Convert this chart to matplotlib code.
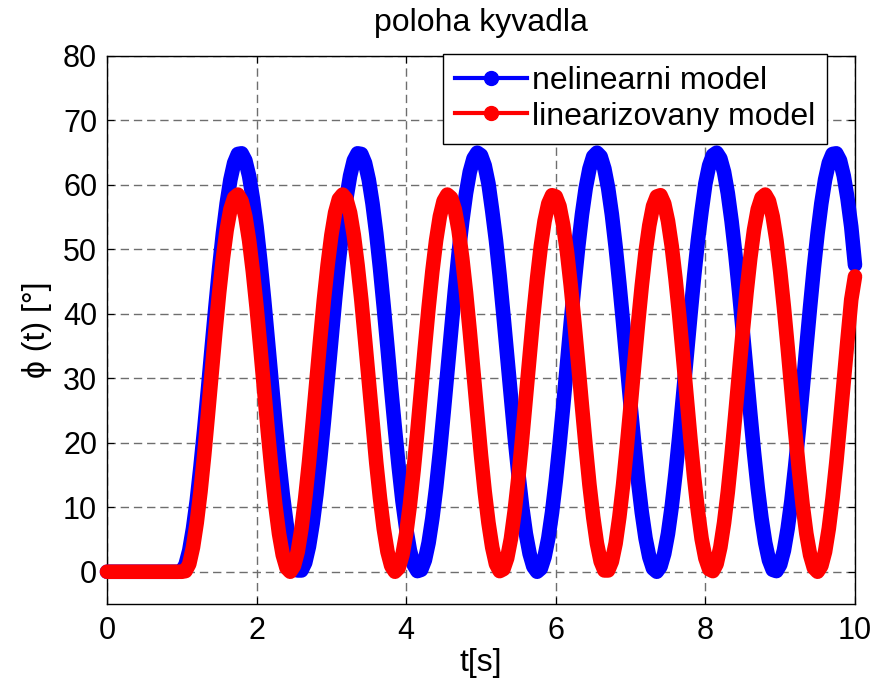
import numpy as np
import matplotlib
matplotlib.use('Agg')
import matplotlib.pyplot as plt
from matplotlib.lines import Line2D

plt.rcParams['font.family'] = ['Liberation Sans', 'DejaVu Sans']

# poloha kyvadla [deg], sampled every 0.05 s from 0 to 10 s
phi_nonlin = [
    0.0, 0.0, 0.0, 0.0, 0.0, 0.0, 0.0, 0.0, 0.0, 0.0,
    0.0, 0.0, 0.0, 0.0, 0.0, 0.0, 0.0, 0.0, 0.0, 0.0,
    0.1, 1.1, 3.3, 6.7, 11.0, 16.3, 22.1, 28.3, 34.8, 41.1,
    47.1, 52.5, 57.1, 60.8, 63.4, 64.8, 64.9, 63.8, 61.4, 57.9,
    53.5, 48.2, 42.3, 36.0, 29.6, 23.3, 17.4, 12.0, 7.5, 3.9,
    1.4, 0.2, 0.2, 1.4, 3.9, 7.5, 12.0, 17.4, 23.3, 29.6,
    36.0, 42.3, 48.2, 53.5, 57.9, 61.4, 63.8, 64.9, 64.8, 63.4,
    60.8, 57.1, 52.5, 47.1, 41.1, 34.8, 28.3, 22.1, 16.3, 11.0,
    6.7, 3.3, 1.1, 0.1, 0.3, 1.8, 4.5, 8.3, 13.0, 18.5,
    24.6, 30.9, 37.3, 43.5, 49.3, 54.4, 58.7, 62.0, 64.1, 65.0,
    64.6, 63.0, 60.2, 56.0, 51.4, 45.9, 39.8, 33.5, 27.1, 20.9,
    15.2, 10.1, 5.9, 2.8, 0.8, 0.0, 0.5, 2.3, 5.2, 9.2,
    14.1, 19.7, 25.8, 32.2, 38.6, 44.7, 50.4, 55.4, 59.5, 62.5,
    64.4, 65.0, 64.4, 62.5, 59.5, 55.4, 50.4, 44.7, 38.6, 32.2,
    25.8, 19.7, 14.1, 9.2, 5.2, 2.3, 0.5, 0.0, 0.8, 2.8,
    5.9, 10.1, 15.2, 20.9, 27.1, 33.5, 39.8, 45.9, 51.4, 56.0,
    60.2, 63.0, 64.6, 65.0, 64.1, 62.0, 58.7, 54.4, 49.3, 43.5,
    37.3, 30.9, 24.6, 18.5, 13.0, 8.3, 4.5, 1.8, 0.3,
    0.1, 1.1, 3.3, 6.7, 11.0, 16.3, 22.1, 28.3, 34.8, 41.1,
    47.1, 52.5, 57.1, 60.8, 63.4, 64.8, 64.9, 63.8, 61.4, 57.9,
    53.5, 47.6,
]

phi_lin = [
    0.0, 0.0, 0.0, 0.0, 0.0, 0.0, 0.0, 0.0, 0.0, 0.0,
    0.0, 0.0, 0.0, 0.0, 0.0, 0.0, 0.0, 0.0, 0.0, 0.0,
    0.0,
    0.1, 1.2, 3.8, 7.6, 12.4, 18.1, 24.4, 30.9, 37.3, 43.3,
    48.6, 53.0, 56.2, 58.0, 58.5, 57.5, 55.1, 51.4, 46.6, 41.0,
    34.8, 28.3, 21.8, 15.8, 10.4, 5.9, 2.6, 0.6, 0.0, 0.9,
    3.1, 6.7, 11.4, 16.9, 23.1, 29.6, 36.0, 42.2, 47.6, 52.2,
    55.7, 57.8, 58.5, 57.8, 55.7, 52.2, 47.6, 42.2, 36.0, 29.6,
    23.1, 16.9, 11.4, 6.7, 3.1, 0.9, 0.0, 0.6, 2.6, 5.9,
    10.4, 15.8, 21.8, 28.3, 34.8, 41.0, 46.6, 51.4, 55.1, 57.5,
    58.5, 58.0, 56.2, 53.0, 48.6, 43.3, 37.3, 30.9, 24.4, 18.1,
    12.4, 7.6, 3.8, 1.2, 0.1, 0.4, 2.1, 5.1, 9.4, 14.6,
    20.6, 27.0, 33.5, 39.8, 45.5, 50.5, 54.4, 57.1, 58.4, 58.2,
    56.7, 53.7, 49.6, 44.4, 38.5, 32.2, 25.7, 19.4, 13.5, 8.5,
    4.4, 1.6, 0.2, 0.2, 1.6, 4.4, 8.5, 13.5, 19.4, 25.7,
    32.2, 38.5, 44.4, 49.6, 53.7, 56.7, 58.2, 58.4, 57.1, 54.4,
    50.5, 45.5, 39.8, 33.5, 27.0, 20.6, 14.6, 9.4, 5.1, 2.1,
    0.4,
    0.1, 1.2, 3.8, 7.6, 12.4, 18.1, 24.4, 30.9, 37.3, 43.3,
    48.6, 53.0, 56.2, 58.0, 58.5, 57.5, 55.1, 51.4, 46.6, 41.0,
    34.8, 28.3, 21.8, 15.8, 10.4, 5.9, 2.6, 0.6, 0.0, 0.9,
    3.1, 6.7, 11.4, 16.9, 23.1, 29.6, 36.0, 42.2, 45.8,
]

t = np.linspace(0, 10, len(phi_lin))
labels = ['nelinearni model', 'linearizovany model']
colors = [(0, 0, 1), (1, 0, 0)]

fig = plt.figure(figsize=(8.87, 6.81), dpi=100)
ax = fig.add_axes([0.1206, 0.1131, 0.8433, 0.8047])

for i, y in enumerate([phi_nonlin, phi_lin]):
    ax.plot(t, y, color=colors[i], lw=10.5, solid_capstyle='round',
            solid_joinstyle='round', clip_on=False, zorder=3 + i)

ax.set_xlim(0, 10)
ax.set_ylim(-5, 80)
ax.set_xticks(range(0, 11, 2))
ax.set_yticks(range(0, 81, 10))
ax.grid(True, color='#6e6e6e', ls=(0, (6, 3.5)), lw=1.0)
ax.set_axisbelow(True)
ax.tick_params(direction='in', length=5, top=True, right=True,
               labelsize=22, pad=7)
ax.tick_params(axis='x', pad=9)
for s in ax.spines.values():
    s.set_linewidth(1.0)

ax.set_title('poloha kyvadla', fontsize=23, pad=18)
ax.set_xlabel('t[s]', fontsize=23, labelpad=1)
ax.set_ylabel('ϕ (t) [°]', fontsize=23, labelpad=8)

handles = [Line2D([], [], color=c, lw=3, marker='o', ms=10) for c in colors]
leg = ax.legend(handles, labels, loc='upper right',
                bbox_to_anchor=(0.9626, 1.0036), fontsize=23,
                frameon=True, fancybox=False, edgecolor='black',
                framealpha=1, borderpad=0.38, labelspacing=0.17,
                handlelength=2.25, handletextpad=0.15, borderaxespad=0)
leg.get_frame().set_linewidth(1.0)
leg.set_zorder(10)

fig.savefig('out.png', dpi=100)
